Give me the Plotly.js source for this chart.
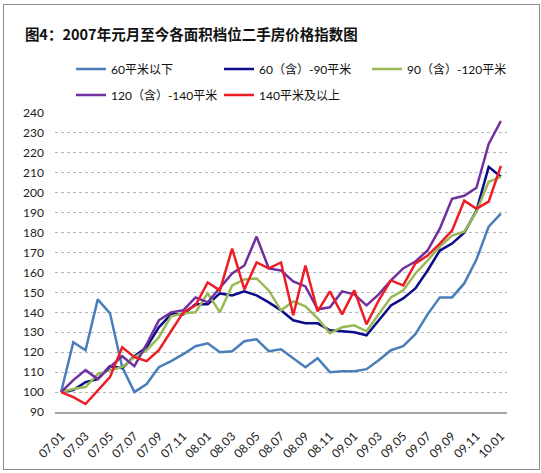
<!DOCTYPE html>
<html><head><meta charset="utf-8">
<script src="https://cdn.plot.ly/plotly-3.0.1.min.js"></script>
<style>
html,body{margin:0;padding:0;background:#fff;overflow:hidden}
#frame{position:absolute;left:3px;top:4px;width:535px;height:464px;border:1px solid #8c8c8c;pointer-events:none}
</style></head><body>
<div id="chart" style="width:541px;height:473px"></div>
<div id="frame"></div>
<script>
const months = ['07.01','07.02','07.03','07.04','07.05','07.06','07.07','07.08','07.09','07.10','07.11','07.12',
  '08.01','08.02','08.03','08.04','08.05','08.06','08.07','08.08','08.09','08.10','08.11','08.12',
  '09.01','09.02','09.03','09.04','09.05','09.06','09.07','09.08','09.09','09.10','09.11','09.12','10.01'];
const seriesNames = ['60平米以下','60（含）-90平米','90（含）-120平米','120（含）-140平米','140平米及以上'];
const under60 = [100,125,121,146.5,139.5,112.5,100,104,112.5,115.5,119,123,124.5,120,120.5,125.5,126.5,120.5,121.5,117,112.5,117,110,110.5,110.5,111.5,116,121,123,129,139,147.5,147.5,154.5,166.5,183,189.5];
const s60to90 = [100,101,105,106.5,113,112,118,122.5,132.5,139,139,144,144,149.5,148.5,150.5,148.5,145,141,136,134.5,134.5,131,130.5,130,128.5,136,143.5,147,152,161,171,174.5,180,191,213,208];
const s90to120 = [100,101.5,102.5,109,111,112.5,117.5,121,127.5,138,139.5,140,149.5,140,153.5,156.5,157,151,141,145.5,143,137,129.5,132.5,133.5,130.5,139,147.5,151,159.5,166,173,178.5,180.5,190.5,205.5,208];
const s120to140 = [100,106,111,106.5,112.5,118,113,124,136,140,141,147.5,145,152,159.5,163.5,178,162,161,155.5,153,141.5,142.5,150.5,149,143.5,149,156,162,165.5,171,182,197,198.5,202.5,224.5,236];
const over140 = [100,97.5,94,100.5,107.5,122.5,117.5,115.5,121,130.5,140,143.5,155,151,172,151.5,165,162,165,138.5,163.5,140.5,150.5,139,151,134,146,156,153.5,164.5,168.5,174.5,181,196,192,195.5,213.5];
const yTicks = [90,100,110,120,130,140,150,160,170,180,190,200,210,220,230,240];

const colors = ['#4a7ebb','#0c0c8a','#98b954','#7030a0','#ee1c25'];
const allSeries = [under60, s60to90, s90to120, s120to140, over140];
const legendOf = ['legend','legend','legend','legend2','legend2'];

const traces = allSeries.map((vals, i) => ({
  type: 'scatter', mode: 'lines', x: months, y: vals, name: seriesNames[i],
  legend: legendOf[i],
  line: {color: colors[i], width: 2.5},
  hoverinfo: 'x+y+name'
}));

const fontFam = 'Lato, "Noto Sans CJK SC", sans-serif';
const legendCommon = {
  orientation: 'h', xanchor: 'left', yanchor: 'middle',
  entrywidth: 103, entrywidthmode: 'pixels',
  font: {family: fontFam, size: 12, color: '#111'},
  bgcolor: 'rgba(0,0,0,0)', borderwidth: 0, tracegroupgap: 0
};

const layout = {
  width: 541, height: 473,
  margin: {l: 55, r: 34, t: 113, b: 61},
  paper_bgcolor: '#fff', plot_bgcolor: '#fff',
  font: {family: fontFam, size: 12, color: '#222'},
  title: {
    text: '图4：2007年元月至今各面积档位二手房价格指数图',
    xref: 'container', yref: 'container', x: 0.046, xanchor: 'left', y: 0.926, yanchor: 'middle',
    font: {family: '"Noto Sans CJK SC", sans-serif', size: 14.5, weight: 'bold', color: '#111'}
  },
  showlegend: true,
  legend: Object.assign({}, legendCommon, {x: 0.0354, y: 1.147}),
  legend2: Object.assign({}, legendCommon, {x: 0.0354, y: 1.060}),
  xaxis: {
    type: 'category', categoryorder: 'array', categoryarray: months,
    range: [-0.5, 36.5], tickmode: 'linear', tick0: 0, dtick: 2,
    tickangle: -45, showgrid: false, zeroline: false,
    showline: true, linecolor: '#a6a6a6', linewidth: 1.5,
    ticks: '', tickfont: {family: fontFam, size: 12, color: '#222'},
    ticklabelstandoff: 11
  },
  yaxis: {
    range: [90, 240], tickmode: 'array', tickvals: yTicks,
    showgrid: true, gridcolor: '#b5b5b5', griddash: 'dot', gridwidth: 1,
    zeroline: false, showline: false, ticks: '',
    tickfont: {family: fontFam, size: 12, color: '#222'},
    ticklabelstandoff: 10
  }
};

Plotly.newPlot('chart', traces, layout, {displayModeBar: false, staticPlot: true});
</script>
</body></html>
